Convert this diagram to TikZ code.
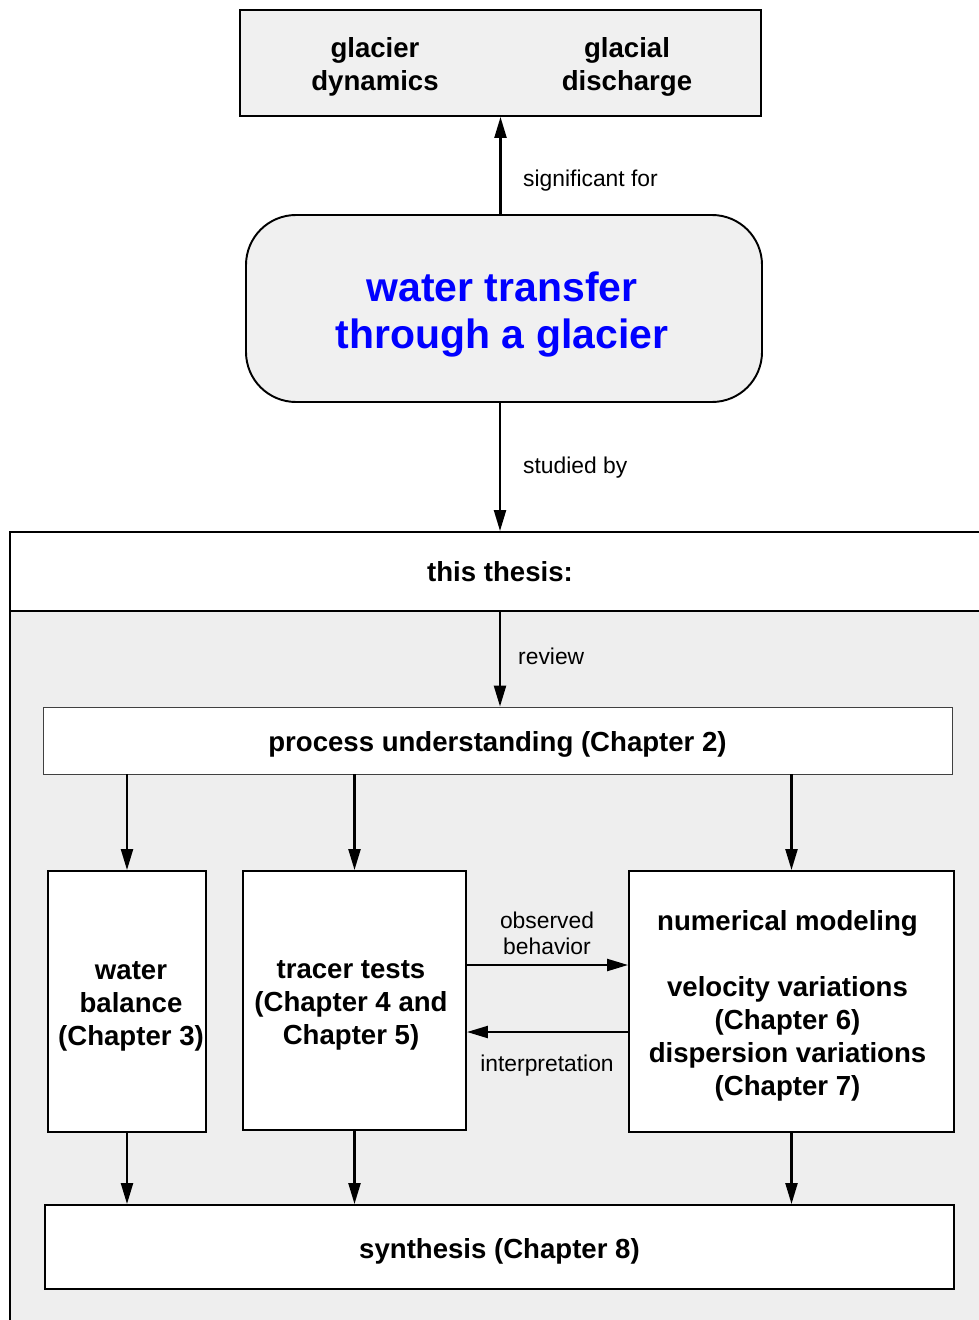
\documentclass[tikz,border=0pt]{standalone}
\usepackage{fontspec}
\setmainfont{Liberation Sans}
\usetikzlibrary{arrows.meta,positioning}
\definecolor{boxgrey}{HTML}{F0F0F0}
\definecolor{panelgrey}{HTML}{EEEEEE}

\begin{document}
\begin{tikzpicture}[x=0.2mm,y=-0.2mm,
  every node/.style={font=\fontsize{15.7}{18.8}\selectfont\bfseries,align=center},
  box/.style={draw,line width=1.1pt,fill=white,inner sep=2pt},
  lbl/.style={font=\fontsize{13}{14.7}\selectfont},
  arr/.style={line width=1.3pt,-{Triangle[length=4.2mm,width=2.4mm]}}]
\clip (0,0) rectangle (979,1320);
\fill[panelgrey] (10,611) rectangle (1000,1340);
\draw[line width=1.1pt] (10,1340) -- (10,611);
\node[box,minimum width=196mm,minimum height=15.8mm] (thesis) at (500,571.5) {this thesis:};
\node[box,fill=boxgrey,minimum width=104.2mm,minimum height=21.2mm] (effects) at (500.5,63) {};
\node (dyn) at (375,66.5) {glacier\\dynamics};
\node (dis) at (627,66.5) {glacial\\discharge};
\node[box,fill=boxgrey,rounded corners=10mm,minimum width=103.2mm,minimum height=37.4mm,
  label={[shift={(-2,6)},text=blue,font=\fontsize{23.3}{27.2}\selectfont\bfseries]center:water transfer\\through a glacier}] (transfer) at (504,308.5) {};
\node[box,line width=0.5pt,draw=black!75,minimum width=181.8mm,minimum height=13.4mm,
  label={[shift={(0,4)}]center:process understanding (Chapter 2)}] (process) at (497.5,740.5) {};
\node[box,minimum width=31.6mm,minimum height=52.2mm,
  label={[shift={(4,5)}]center:water\\balance\\(Chapter 3)}] (wbal) at (127,1001.5) {};
\node[box,minimum width=44.6mm,minimum height=51.8mm,
  label={[shift={(-3.5,5)}]center:tracer tests\\(Chapter 4 and\\Chapter 5)}] (tracer) at (354.5,1000.5) {};
\node[box,minimum width=65mm,minimum height=52.2mm,
  label={[shift={(-4,4)}]center:numerical modeling\\[18.8pt]velocity variations\\(Chapter 6)\\dispersion variations\\(Chapter 7)}] (numer) at (791.5,1001.5) {};
\node[box,minimum width=181.8mm,minimum height=16.8mm,
  label={[shift={(0,4)}]center:synthesis (Chapter 8)}] (synth) at (499.5,1247) {};

\draw[arr] (transfer.north -| effects.south) -- (effects.south);
\node[lbl,anchor=west] (sig) at (517,181) {significant for};
\draw[arr] (transfer.south -| thesis.north) -- (thesis.north);
\node[lbl,anchor=west] (stud) at (517,468) {studied by};
\draw[arr] (thesis.south) -- (thesis.south |- process.north);
\node[lbl,anchor=west] (rev) at (512,656) {review};
\draw[arr] (process.south -| wbal.north) -- (wbal.north);
\draw[arr] (process.south -| tracer.north) -- (tracer.north);
\draw[arr] (process.south -| numer.north) -- (numer.north);
\coordinate (obs) at ([yshift=7.1mm]tracer.east);
\coordinate (intp) at ([yshift=-6.1mm]numer.west);
\draw[arr] (obs) -- (obs -| numer.west);
\draw[arr] (intp) -- (intp -| tracer.east);
\node[lbl] (obsl) at (547,933) {observed\\behavior};
\node[lbl] (intl) at (547,1066) {interpretation};
\draw[arr] (wbal.south) -- (wbal.south |- synth.north);
\draw[arr] (tracer.south) -- (tracer.south |- synth.north);
\draw[arr] (numer.south) -- (numer.south |- synth.north);
\end{tikzpicture}
\end{document}
